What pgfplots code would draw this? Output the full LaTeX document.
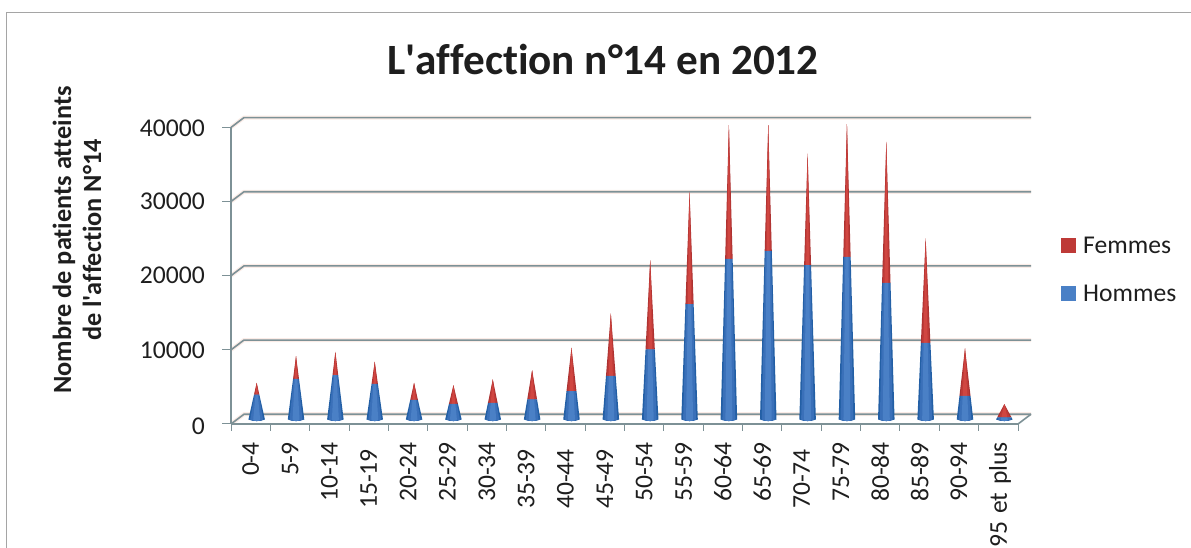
\documentclass[border=0pt]{standalone}
\usepackage{pgfplots}
\pgfplotsset{compat=1.18}
\usepackage{fontspec}
\setmainfont[Ligatures=NoCommon]{Carlito}
\definecolor{gridc}{RGB}{125,145,150}
\definecolor{gridglow}{RGB}{235,170,145}
\definecolor{frameC}{RGB}{165,165,165}
\definecolor{blueA}{RGB}{35,95,165}
\definecolor{blueB}{RGB}{58,112,185}
\definecolor{blueC}{RGB}{74,128,198}
\definecolor{redA}{RGB}{170,48,48}
\definecolor{redB}{RGB}{190,58,55}
\definecolor{redC}{RGB}{208,70,65}
\definecolor{txt}{RGB}{30,30,30}
\pgfplotsset{coneshift/.style={xshift=6pt,yshift=4.5pt}}
% one layer of a cone: centre, Hommes, stack top, half width at the join, width factor, colours
\newcommand{\conelayerx}[7]{%
 \pgfmathsetmacro{\xa}{#1-0.21*#5}\pgfmathsetmacro{\xb}{#1+0.21*#5}%
 \pgfmathsetmacro{\xe}{#1-0.11*#5}\pgfmathsetmacro{\xf}{#1+0.11*#5}%
 \pgfmathsetmacro{\xc}{#1-#4*#5}\pgfmathsetmacro{\xd}{#1+#4*#5}%
 \edef\temp{\noexpand\addplot[draw=none,forget plot,fill=#7,coneshift] coordinates {(\xc,#2) (#1,#3) (\xd,#2)} --cycle;
 \noexpand\addplot[draw=none,forget plot,fill=#6,coneshift] coordinates {(\xa,0) (\xe,-170) (#1,-210) (\xf,-170) (\xb,0) (\xd,#2) (\xc,#2)} --cycle;}%
 \temp}
\newcommand{\cone}[4]{%
 \conelayerx{#1}{#2}{#3}{#4}{1}{blueA}{redA}%
 \conelayerx{#1}{#2}{#3}{#4}{0.78}{blueB}{redB}%
 \conelayerx{#1}{#2}{#3}{#4}{0.42}{blueC}{redC}}
\begin{document}
\begin{tikzpicture}[x=1pt,y=1pt]
\useasboundingbox (0,0) rectangle (1191,548);
\clip (0,0) rectangle (1191,548);
\draw[frameC,line width=1.3pt] (6.5,-2) -- (6.5,535.5) -- (1193,535.5);
\node[font=\bfseries\fontsize{43.2}{48}\selectfont,text=txt] at (603,488) {L\textquotesingle affection n°14 en 2012};
\begin{axis}[
 at={(231pt,124pt)},anchor=south west,scale only axis,
 width=800pt,height=306.3pt,
 xmin=-0.5,xmax=19.83,ymin=0,ymax=41308,
 axis lines=none,clip=false,
 ]
% back wall and floor
\pgfplotsinvokeforeach{0,10000,20000,30000,40000}{
 \addplot[gridglow,line width=4pt,opacity=.22,forget plot] coordinates {(-0.5,#1) (-0.17,#1+1320) (19.83,#1+1320)};
 \addplot[gridc,line width=1.6pt,forget plot] coordinates {(-0.5,#1) (-0.17,#1+1320) (19.83,#1+1320)};
}
\addplot[gridc,line width=1.6pt,forget plot] coordinates {(-0.5,0) (19.5,0) (19.83,1320)};
\addplot[gridc,line width=1.6pt,forget plot] coordinates {(-0.5,0) (-0.5,40000)};
% ticks
\addplot[gridc,line width=1pt,forget plot] coordinates {(-0.72,0) (-0.5,0)};
\addplot[gridc,line width=1pt,forget plot] coordinates {(-0.72,10000) (-0.5,10000)};
\addplot[gridc,line width=1pt,forget plot] coordinates {(-0.72,20000) (-0.5,20000)};
\addplot[gridc,line width=1pt,forget plot] coordinates {(-0.72,30000) (-0.5,30000)};
\addplot[gridc,line width=1pt,forget plot] coordinates {(-0.72,40000) (-0.5,40000)};
\pgfplotsinvokeforeach{-0.5,0.5,...,19.5}{
 \addplot[gridc,line width=1pt,forget plot] coordinates {(#1,0) (#1,-1000)};
}
% cones: position, Hommes, Hommes+Femmes, half width at the join
\cone{0}{3370}{4945}{0.067}
\cone{1}{5485}{8540}{0.075}
\cone{2}{5980}{9125}{0.072}
\cone{3}{4810}{7775}{0.080}
\cone{4}{2650}{4945}{0.097}
\cone{5}{2115}{4630}{0.114}
\cone{6}{2250}{5395}{0.122}
\cone{7}{2700}{6650}{0.125}
\cone{8}{3820}{9665}{0.127}
\cone{9}{5890}{14295}{0.123}
\cone{10}{9440}{21485}{0.118}
\cone{11}{15550}{30700}{0.104}
\cone{12}{21665}{39690}{0.095}
\cone{13}{22745}{39690}{0.090}
\cone{14}{20810}{35870}{0.088}
\cone{15}{21935}{39825}{0.094}
\cone{16}{18430}{37445}{0.107}
\cone{17}{10340}{24410}{0.121}
\cone{18}{3190}{9575}{0.140}
\cone{19}{270}{2070}{0.183}
\end{axis}
% tick labels
\foreach \v/\y in {0/122,10000/198,20000/272.5,30000/346.5,40000/419.5}
 \node[anchor=east,font=\fontsize{25.6}{28}\selectfont,text=txt,inner sep=0pt] at (205,\y) {\v};
\foreach \l/\t [count=\i from 0] in {0-4/106,5-9/106,10-14/106,15-19/99,20-24/106,25-29/106,30-34/106,35-39/99,40-44/99,45-49/99,50-54/106,55-59/106,60-64/106,65-69/106,70-74/99,75-79/106,80-84/106,85-89/106,90-94/106}
 \node[anchor=east,rotate=90,font=\fontsize{25.6}{28}\selectfont,text=txt,inner sep=0pt] at ({250.7+39.35*\i},\t) {\l};
\node[anchor=east,rotate=90,font=\fontsize{25.6}{28}\selectfont,text=txt,inner sep=0pt] at (1000,106) {95\kern2pt\ et\kern2pt\ plus};
\node[rotate=90,align=center,font=\bfseries\fontsize{26.3}{30}\selectfont,text=txt] at (77,308) {Nombre de patients atteints\\de l\textquotesingle affection N°14};
% legend
\fill[redB] (1061,295) rectangle (1076,310);
\fill[blueC] (1061,247) rectangle (1076,262);
\node[anchor=west,font=\fontsize{25.6}{28}\selectfont,text=txt,inner sep=0pt] at (1083,303) {Femmes};
\node[anchor=west,font=\fontsize{25.6}{28}\selectfont,text=txt,inner sep=0pt] at (1083,255) {Hommes};
\end{tikzpicture}
\end{document}
